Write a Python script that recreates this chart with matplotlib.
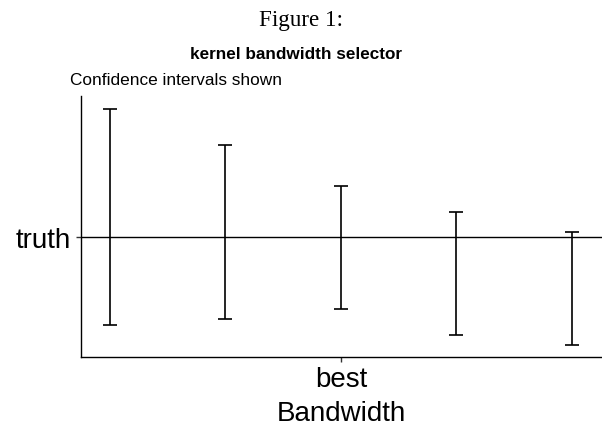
import matplotlib
matplotlib.use("Agg")
import matplotlib.pyplot as plt

# data (y relative to truth = 0)
positions = [1, 2, 3, 4, 5]
upper = [128, 92, 50.7, 25, 4.7]
lower = [-87.7, -82.3, -72, -98, -108.3]
truth = 0
xtick_pos = [3]
xtick_labels = ["best"]

W, H = 602, 427
fig = plt.figure(figsize=(W / 100, H / 100), dpi=100)
ax = fig.add_axes([81 / W, (H - 357.7) / H, (602 - 81) / W, (357.7 - 97) / H])

ax.axhline(truth, color="black", lw=1.0, zorder=1)
for x, lo, hi in zip(positions, lower, upper):
    ax.errorbar([x], [(lo + hi) / 2], yerr=[[(hi - lo) / 2], [(hi - lo) / 2]],
                fmt="none", ecolor="black", elinewidth=1.2, capsize=5, capthick=1.2, zorder=2)

ax.set_xlim(0.749, 5.26)
ax.set_ylim(-119.7, 141)
ax.set_xticks(xtick_pos)
ax.set_xticklabels(xtick_labels, fontsize=20, family="Liberation Sans")
ax.set_yticks([truth])
ax.set_yticklabels(["truth"], fontsize=20, family="Liberation Sans")
ax.tick_params(axis="x", length=3.5, width=1, color="#333333", pad=3)
ax.tick_params(axis="y", length=3.5, width=1, color="#333333", pad=3.5)
ax.set_xlabel("Bandwidth", fontsize=20, family="Liberation Sans", labelpad=6)
for s in ["top", "right"]:
    ax.spines[s].set_visible(False)
for s in ["left", "bottom"]:
    ax.spines[s].set_linewidth(1.0)

fig.text(301 / W, 1 - 26 / H, "Figure 1:", ha="center", va="baseline",
         fontsize=16.6, family="Liberation Serif")
fig.text(296 / W, 1 - 59 / H, "kernel bandwidth selector", ha="center", va="baseline",
         fontsize=12.3, fontweight="bold", family="Liberation Sans")
fig.text(70 / W, 1 - 85 / H, "Confidence intervals shown", ha="left", va="baseline",
         fontsize=12.4, family="Liberation Sans")

fig.savefig("out.png", dpi=100)
